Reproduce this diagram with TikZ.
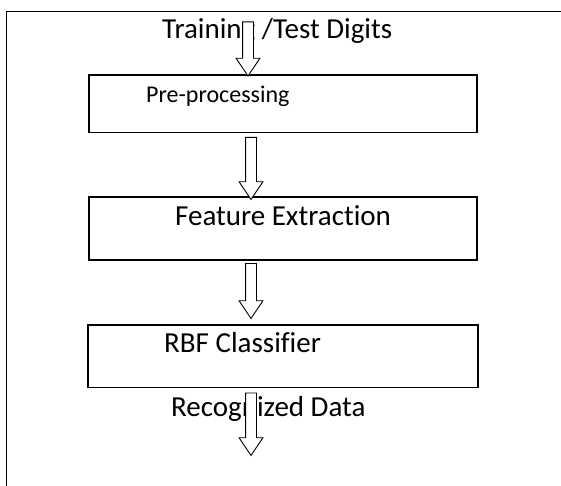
\documentclass[tikz,border=0pt]{standalone}
\usepackage{fontspec}
\setmainfont[Ligatures=NoCommon]{Carlito}
\usetikzlibrary{shapes.arrows}
\begin{document}
\begin{tikzpicture}[x=1pt, y=-1pt,
  box/.style={draw, line width=1.8pt, inner sep=0pt, outer sep=0pt, minimum width=388pt, anchor=north west},
  lbl/.style={inner sep=0pt, anchor=base west, font=\fontsize{29}{34}\selectfont},
  arr/.style={single arrow, draw, fill=white, line width=0.9pt, rotate=-90, anchor=tail,
    inner xsep=0pt, inner ysep=5pt, single arrow head extend=6.5pt, single arrow tip angle=68}]
  \useasboundingbox (0,0) rectangle (561,486);
  % frame
  \draw[line width=1.8pt] (6.5,486) |- (561,11.5);
  % boxes
  \node[box, minimum height=57.5pt] (b1) at (89,75) {};
  \node[box, minimum height=63pt] (b2) at (89,197) {};
  \node[box, minimum height=62.5pt, minimum width=390pt] (b3) at (88,325) {};
  % texts
  \node[lbl] (in) at (162,39) {Training /Test Digits};
  \node[lbl, font=\fontsize{24}{28}\selectfont] (pre) at (146,103) {Pre-processing};
  \node[lbl] (feat) at (175,225) {Feature Extraction};
  \node[lbl] (rbf) at (164,352.5) {RBF Classifier};
  \node[lbl] (out) at (171,416.5) {Recognized Data};
  % arrows
  \node[arr, minimum height=54pt] (a1) at (248,21.5) {};
  \node[arr, minimum height=62pt] (a2) at (251,137) {};
  \node[arr, minimum height=55pt] (a3) at (251,263) {};
  \node[arr, minimum height=62.5pt] (a4) at (251,392.5) {};
\end{tikzpicture}
\end{document}
